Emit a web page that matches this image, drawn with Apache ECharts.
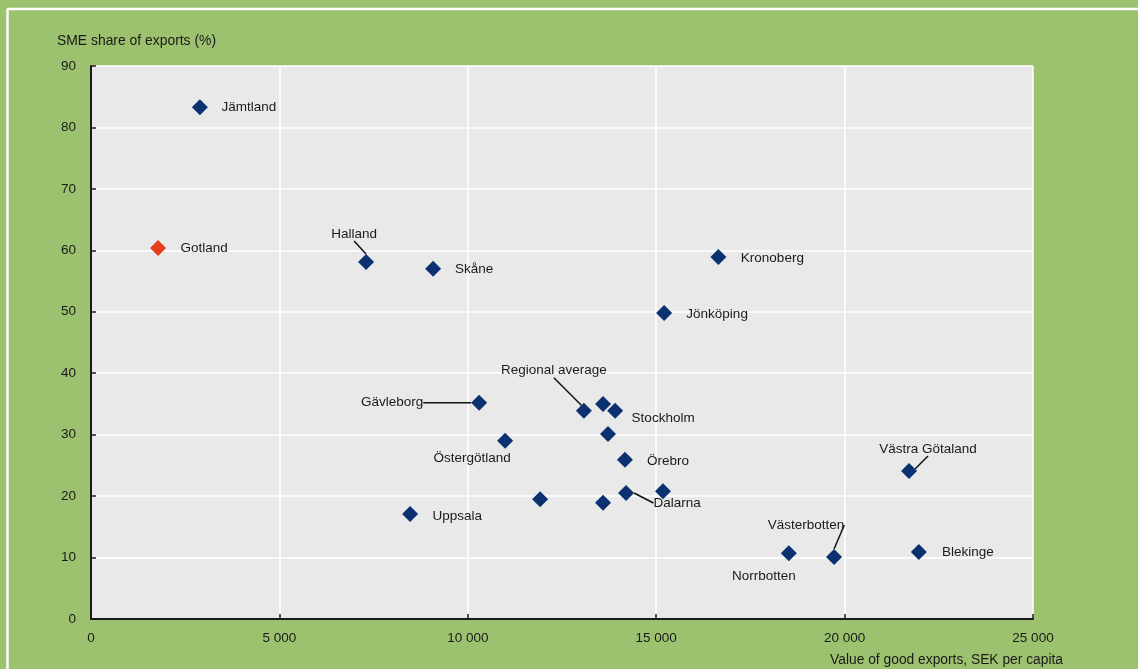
<!DOCTYPE html>
<html>
<head>
<meta charset="utf-8">
<script src="https://cdn.jsdelivr.net/npm/echarts@6/dist/echarts.min.js"></script>
<style>
  html, body { margin: 0; padding: 0; background: #9dc26f; overflow: hidden; }
  #chart { width: 1138px; height: 669px; }
</style>
</head>
<body>
<div id="chart"></div>
<script>
// ---- Data ----
const regions = ['Jämtland', 'Gotland', 'Halland', 'Skåne', 'Kronoberg', 'Jönköping', 'Gävleborg',
  'Regional average', '', 'Stockholm', '', 'Östergötland', 'Örebro', '', 'Dalarna', '', '',
  'Uppsala', 'Västra Götaland', 'Norrbotten', 'Västerbotten', 'Blekinge'];
const exportsPerCapita = [2890, 1780, 7300, 9080, 16650, 15210, 10300,
  13080, 13590, 13910, 13720, 10990, 14170, 15180, 14200, 11920, 13590,
  8470, 21710, 18520, 19720, 21970];
const smeShare = [83.3, 60.4, 58.1, 57.0, 58.9, 49.8, 35.2,
  33.9, 35.0, 33.9, 30.1, 29.0, 25.9, 20.8, 20.5, 19.5, 18.9,
  17.1, 24.1, 10.7, 10.1, 10.9];
const highlighted = ['Gotland'];
const xTicks = [0, 5000, 10000, 15000, 20000, 25000];
const yTicks = [0, 10, 20, 30, 40, 50, 60, 70, 80, 90];

// ---- Label placement (styling only: offsets of each label from its marker) ----
const labelDx = [49, 46, -12, 41, 54, 53, -87, -30, 0, 48, 0, -33, 43, 0, 51, 0, 0, 47, 19, -25, -28, 49];
const labelDy = [0, 0, -28, 1, 1, 1, 0, -40, 0, 8, 0, 17, 1, 0, 10, 0, 0, 2, -22, 23, -32, 0];
const leader = ['Halland', 'Gävleborg', 'Regional average', 'Dalarna', 'Västra Götaland', 'Västerbotten'];

const font = '"Liberation Sans", Arial, sans-serif';
const navy = '#0b3170';
const red = '#e43f1a';
const ink = '#1a1a1a';

const data = regions.map((name, i) => ({
  name: name,
  value: [exportsPerCapita[i], smeShare[i]],
  itemStyle: { color: highlighted.includes(name) ? red : navy, opacity: 1 },
  label: { show: name !== '' },
  labelLine: { show: leader.includes(name) }
}));

const chart = echarts.init(document.getElementById('chart'), null, { renderer: 'canvas' });
chart.setOption({
  backgroundColor: '#9dc26f',
  animation: false,
  textStyle: { fontFamily: font },
  title: [
    { text: 'SME share of exports (%)', left: 57, top: 34, padding: 0,
      textStyle: { fontFamily: font, fontSize: 13.9, fontWeight: 'normal', color: ink } },
    { text: 'Value of good exports, SEK per capita', right: 1138 - 1063, top: 653, padding: 0,
      textStyle: { fontFamily: font, fontSize: 13.8, fontWeight: 'normal', color: ink } }
  ],
  graphic: [
    { type: 'line', shape: { x1: 7, y1: 9, x2: 1138, y2: 9 }, style: { stroke: '#ffffff', lineWidth: 2.5 }, silent: true },
    { type: 'line', shape: { x1: 7.5, y1: 9, x2: 7.5, y2: 669 }, style: { stroke: '#ffffff', lineWidth: 2.5 }, silent: true }
  ],
  grid: {
    left: 91, right: 1138 - 1033, top: 66, bottom: 669 - 619,
    show: true, backgroundColor: '#e9e9e9', borderWidth: 0
  },
  xAxis: {
    type: 'value', min: xTicks[0], max: xTicks[xTicks.length - 1], interval: 5000,
    axisLine: { show: true, lineStyle: { color: ink, width: 2 } },
    axisTick: { show: true, inside: true, length: 5, lineStyle: { color: ink, width: 1.5 } },
    splitLine: { show: true, lineStyle: { color: '#ffffff', width: 1.5 } },
    axisLabel: {
      color: ink, fontSize: 13.5, fontFamily: font, margin: 12,
      formatter: v => String(v).replace(/\B(?=(\d{3})+(?!\d))/g, ' ')
    }
  },
  yAxis: {
    type: 'value', min: yTicks[0], max: yTicks[yTicks.length - 1], interval: 10,
    axisLine: { show: true, lineStyle: { color: ink, width: 2 } },
    axisTick: { show: true, inside: true, length: 5, lineStyle: { color: ink, width: 1.5 } },
    splitLine: { show: true, lineStyle: { color: '#ffffff', width: 1.5 } },
    axisLabel: { color: ink, fontSize: 13.5, fontFamily: font, margin: 15 }
  },
  series: [{
    type: 'scatter',
    symbol: 'diamond',
    symbolSize: 16,
    itemStyle: { opacity: 1 },
    data: data,
    label: {
      position: 'inside',
      formatter: p => p.name,
      color: ink,
      fontSize: 13.5,
      fontFamily: font
    },
    labelLine: { lineStyle: { color: '#111111', width: 1.5 } },
    labelLayout: p => ({ dx: labelDx[p.dataIndex], dy: labelDy[p.dataIndex] }),
    emphasis: { disabled: true },
    z: 3
  }]
});
</script>
</body>
</html>
